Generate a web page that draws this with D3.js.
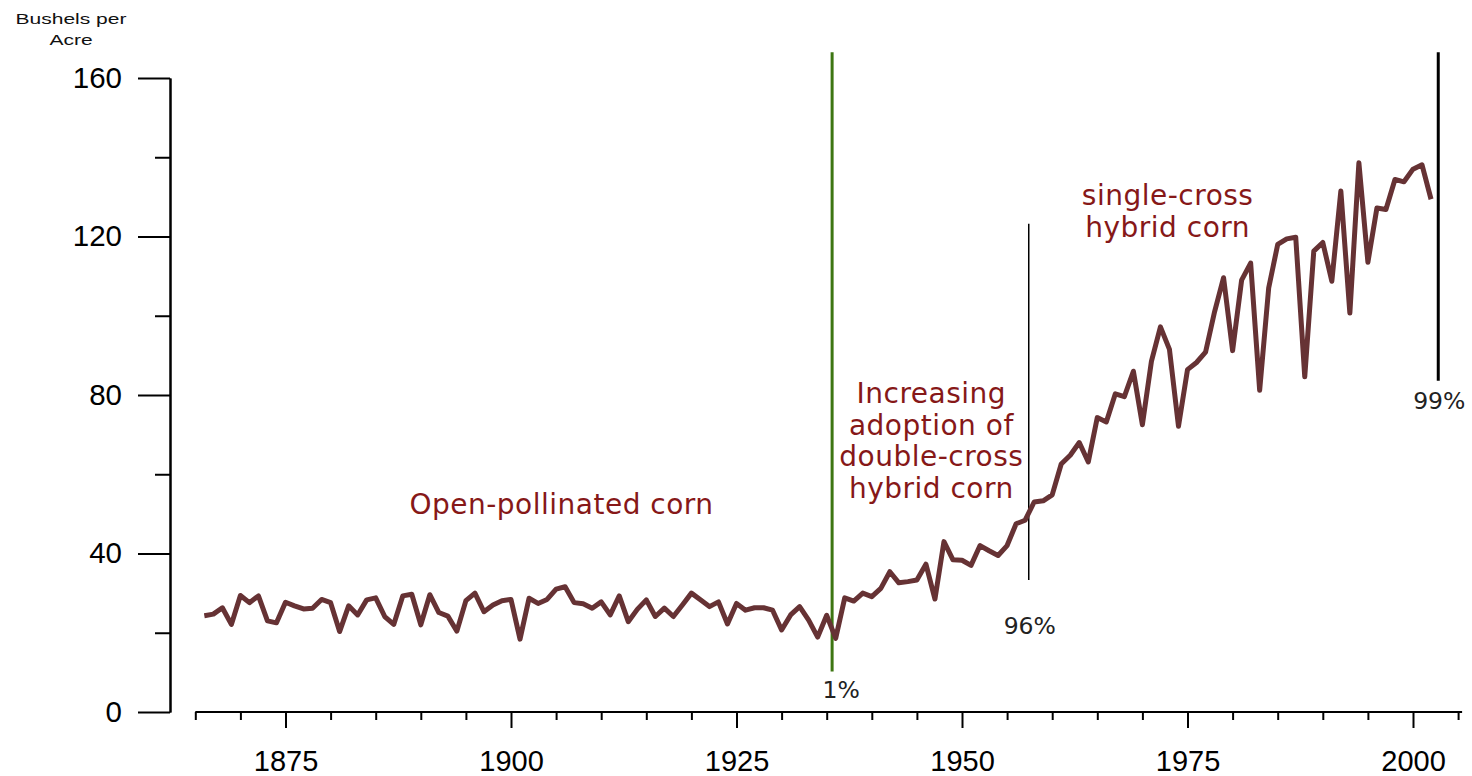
<!DOCTYPE html>
<html>
<head>
<meta charset="utf-8">
<script src="https://cdn.jsdelivr.net/npm/d3@7"></script>
<style>
    body { margin: 0; background: #fff; }
    svg { display: block; }
    .tick text { font-family: "Liberation Sans", Arial, sans-serif; }
</style>
</head>
<body>
<script>
// US corn yield, bushels per acre, 1866 - 2002
var firstYear = 1866;
var yields = [
    24.3, 24.7, 26.3, 22.1, 29.4, 27.6, 29.3, 23.0, 22.5, 27.7,   // 1866-1875
    26.8, 26.0, 26.2, 28.4, 27.6, 20.3, 26.8, 24.5, 28.3, 28.8,   // 1876-1885
    24.1, 22.1, 29.3, 29.7, 22.0, 29.6, 25.1, 24.2, 20.4, 28.1,   // 1886-1895
    30.0, 25.3, 27.0, 28.1, 28.4, 18.4, 28.7, 27.4, 28.4, 31.0,   // 1896-1905
    31.6, 27.6, 27.3, 26.2, 27.8, 24.5, 29.3, 22.8, 25.9, 28.3,   // 1906-1915
    24.1, 26.2, 24.1, 27.0, 30.0, 28.3, 26.6, 27.8, 22.2, 27.4,   // 1916-1925
    25.7, 26.3, 26.3, 25.7, 20.7, 24.5, 26.6, 23.2, 18.9, 24.4,   // 1926-1935
    18.6, 28.8, 28.0, 30.0, 29.1, 31.2, 35.4, 32.6, 32.9, 33.3,   // 1936-1945
    37.3, 28.5, 43.0, 38.4, 38.3, 37.0, 42.0, 40.7, 39.5, 42.0,   // 1946-1955
    47.5, 48.4, 53.0, 53.3, 54.8, 62.6, 64.8, 68.0, 63.1, 74.3,   // 1956-1965
    73.2, 80.3, 79.6, 86.0, 72.5, 88.5, 97.2, 91.5, 72.1, 86.4,   // 1966-1975
    88.2, 90.8, 101.0, 109.6, 91.2, 109.0, 113.3, 81.2, 107.0, 118.0, // 1976-1985
    119.4, 119.8, 84.6, 116.3, 118.5, 108.7, 131.5, 100.7, 138.6, 113.5, // 1986-1995
    127.2, 126.8, 134.4, 133.8, 137.0, 138.1, 129.4                // 1996-2002
];

var yTickLabels = [0, 40, 80, 120, 160];
var yMinorTicks = [20, 60, 100, 140];
var xTickLabels = [1875, 1900, 1925, 1950, 1975, 2000];
var xMinorTicks = [1865, 1870, 1880, 1885, 1890, 1895, 1905, 1910, 1915, 1920,
    1930, 1935, 1940, 1945, 1955, 1960, 1965, 1970, 1980, 1985, 1990, 1995, 2005];

// hybrid adoption milestones: year, share label, line span (bushels)
var milestoneYears = [1935.6, 1957.4, 2002.8];
var milestoneLabels = ["1%", "96%", "99%"];
var milestoneSpans = [[10.2, 166.5], [33.3, 123.2], [83.6, 166.5]];

var phaseLabels = [
    ["Open-pollinated corn"],
    ["Increasing", "adoption of", "double-cross", "hybrid corn"],
    ["single-cross", "hybrid corn"]
];
var phaseYears = [1905.6, 1946.6, 1972.8];
var phaseTops = [50.0, 78.0, 128.0];

var width = 1472, height = 776;

var x = d3.scaleLinear().domain([1875, 2000]).range([285.5, 1413]);
var y = d3.scaleLinear().domain([0, 160]).range([712, 78]);

var svg = d3.select("body").append("svg")
    .attr("width", width)
    .attr("height", height);

// y axis
var yAxis = svg.append("g")
    .attr("transform", "translate(170,0)")
    .call(d3.axisLeft(y).tickValues(yTickLabels).tickSize(32).tickSizeOuter(0).tickPadding(16));
yAxis.selectAll("text").attr("font-size", 29.5).attr("fill", "#000");
svg.append("g")
    .attr("transform", "translate(170,0)")
    .call(d3.axisLeft(y).tickValues(yMinorTicks).tickSize(15).tickSizeOuter(0).tickFormat(""));

// x axis
var xAxis = svg.append("g")
    .attr("transform", "translate(0,712)")
    .call(d3.axisBottom(x).tickValues(xTickLabels).tickSize(16).tickSizeOuter(0)
        .tickPadding(22).tickFormat(d3.format("d")));
xAxis.select(".domain").attr("d", "M" + x(1865) + ",0H" + (x(2005) + 4));
xAxis.selectAll("text").attr("font-size", 29).attr("fill", "#000");
svg.append("g")
    .attr("transform", "translate(0,712)")
    .call(d3.axisBottom(x).tickValues(xMinorTicks).tickSize(8).tickSizeOuter(0).tickFormat(""))
    .select(".domain").remove();

svg.selectAll(".domain, .tick line")
    .attr("stroke", "#000")
    .attr("stroke-width", 2);

// units label (the original is stretched sideways)
svg.append("g")
    .attr("transform", "translate(71,0) scale(1.45,1)")
    .append("text")
    .attr("font-family", "Liberation Sans, Arial, sans-serif")
    .attr("font-size", 14.5)
    .attr("text-anchor", "middle")
    .attr("fill", "#111")
    .selectAll("tspan")
    .data(["Bushels per", "Acre"])
    .join("tspan")
    .attr("x", 0)
    .attr("y", (d, i) => 24 + i * 21)
    .text(d => d);

// milestone lines
var lineColors = ["#3d7612", "#000", "#000"];
var lineWidths = [3, 1.5, 3];
var labelOffsets = [26, 54, 28];

milestoneYears.forEach(function(yr, i) {
    svg.append("line")
        .attr("x1", x(yr)).attr("x2", x(yr))
        .attr("y1", y(milestoneSpans[i][0]))
        .attr("y2", y(milestoneSpans[i][1]))
        .attr("stroke", lineColors[i])
        .attr("stroke-width", lineWidths[i]);

    svg.append("text")
        .attr("x", x(yr) + (i == 0 ? 9 : 1))
        .attr("y", y(milestoneSpans[i][0]) + labelOffsets[i])
        .attr("text-anchor", "middle")
        .attr("font-family", "DejaVu Sans, Verdana, sans-serif")
        .attr("font-size", 23.5)
        .attr("fill", "#222")
        .text(milestoneLabels[i]);
});

// yield line
var line = d3.line()
    .x((d, i) => x(firstYear + i))
    .y(d => y(d));

svg.append("path")
    .datum(yields)
    .attr("fill", "none")
    .attr("stroke", "#663234")
    .attr("stroke-width", 5)
    .attr("stroke-linejoin", "round")
    .attr("d", line);

// phase annotations
phaseLabels.forEach(function(lines, i) {
    svg.append("text")
        .attr("text-anchor", "middle")
        .attr("font-family", "DejaVu Sans, Verdana, sans-serif")
        .attr("font-size", 28)
        .attr("letter-spacing", 0.5)
        .attr("fill", "#861818")
        .selectAll("tspan")
        .data(lines)
        .join("tspan")
        .attr("x", x(phaseYears[i]))
        .attr("y", (d, j) => y(phaseTops[i]) + j * 31.7)
        .text(d => d);
});
</script>
</body>
</html>
